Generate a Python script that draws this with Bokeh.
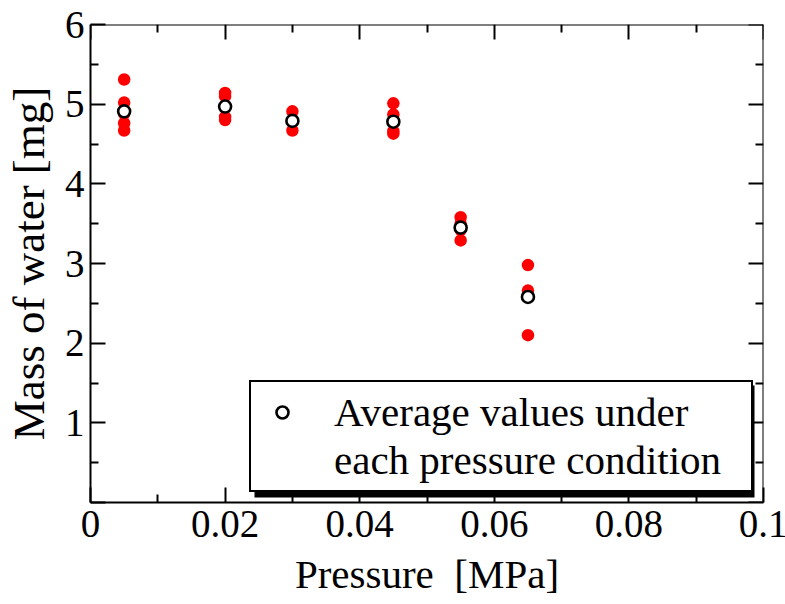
from bokeh.plotting import figure
from bokeh.models import (LinearAxis, FixedTicker, NumeralTickFormatter, Legend,
                          LegendItem, BoxAnnotation, Range1d, CustomLabelingPolicy)
from bokeh.embed import file_html
from bokeh.resources import INLINE

# ---------------- data ----------------
pressures = [0.005, 0.02, 0.03, 0.045, 0.055, 0.065]   # MPa
mass_p005 = [5.31, 5.02, 4.88, 4.76, 4.67]
mass_p020 = [5.14, 5.10, 4.84, 4.80]
mass_p030 = [4.91, 4.78, 4.67]
mass_p045 = [5.01, 4.87, 4.78, 4.66, 4.63]
mass_p055 = [3.58, 3.50, 3.42, 3.29]
mass_p065 = [2.98, 2.66, 2.58, 2.10]
average_mass = [4.91, 4.97, 4.79, 4.78, 3.45, 2.58]

x_ticks = [0, 0.02, 0.04, 0.06, 0.08, 0.1]
x_minor_ticks = [0.01, 0.03, 0.05, 0.07, 0.09]
y_ticks = [0, 1, 2, 3, 4, 5, 6]
y_minor_ticks = [0.5, 1.5, 2.5, 3.5, 4.5, 5.5]

x_label = "Pressure \u00a0[MPa]"
y_label = "Mass of water [mg]"
legend_line1 = "Average values under"
legend_line2 = "each pressure condition"

# ---------------- figure ----------------
FONT = "Liberation Serif"

p = figure(frame_width=673, frame_height=478, output_backend="svg",
           toolbar_location=None,
           x_range=Range1d(x_ticks[0], x_ticks[-1]),
           y_range=Range1d(y_ticks[0], y_ticks[-1]),
           min_border_left=88, min_border_right=24, min_border_top=24,
           min_border_bottom=102, x_axis_label=x_label, y_axis_label=y_label)
p.xgrid.visible = False
p.ygrid.visible = False
p.outline_line_color = None
p.background_fill_color = "white"
p.border_fill_color = "white"

all_mass = [mass_p005, mass_p020, mass_p030, mass_p045, mass_p055, mass_p065]
xs, ys = [], []
for pr, ms in zip(pressures, all_mass):
    xs += [pr] * len(ms)
    ys += ms

p.scatter(xs, ys, size=12.5, fill_color="#ff0000", line_color=None)
avg = p.scatter(pressures, average_mass, size=12, fill_color="white",
                line_color="black", line_width=2.6)
# empty renderer used only to carry the legend's second text line
blank = p.scatter(x=[], y=[], fill_alpha=0, line_alpha=0)

no_labels = CustomLabelingPolicy(code="""
    for (const i of indices) { indices.unset(i) }
    return indices
""")


def style_axis(ax, labels=True):
    ax.axis_line_width = 2
    ax.axis_line_color = "black"
    ax.major_tick_in = 15
    ax.major_tick_out = 0
    ax.minor_tick_in = 8
    ax.minor_tick_out = 0
    ax.major_tick_line_width = 2
    ax.minor_tick_line_width = 2
    ax.major_tick_line_color = "black"
    ax.minor_tick_line_color = "black"
    if labels:
        ax.major_label_text_font = FONT
        ax.major_label_text_font_size = "39px"
        ax.major_label_text_color = "black"
        ax.axis_label_text_font = FONT
        ax.axis_label_text_font_style = "normal"
        ax.axis_label_text_color = "black"
    else:
        ax.major_label_text_font_size = "0px"
        ax.major_label_standoff = 0
        ax.major_label_policy = no_labels
        ax.axis_label = None


xa = p.xaxis[0]
xa.ticker = FixedTicker(ticks=x_ticks, minor_ticks=x_minor_ticks)
xa.formatter = NumeralTickFormatter(format="0.[00]")
style_axis(xa)
xa.major_label_standoff = 8
xa.axis_label_standoff = 11
xa.axis_label_text_font_size = "41px"

ya = p.yaxis[0]
ya.ticker = FixedTicker(ticks=y_ticks, minor_ticks=y_minor_ticks)
ya.major_label_overrides = {0: ""}
style_axis(ya)
ya.major_label_standoff = 6
ya.axis_label_standoff = 8
ya.axis_label_text_font_size = "45px"

# frame-box axes pinned to the plot edges
top_ax = LinearAxis(ticker=FixedTicker(ticks=x_ticks, minor_ticks=x_minor_ticks),
                    fixed_location=y_ticks[-1])
style_axis(top_ax, labels=False)
p.add_layout(top_ax, "above")
right_ax = LinearAxis(ticker=FixedTicker(ticks=y_ticks, minor_ticks=y_minor_ticks),
                      fixed_location=x_ticks[-1])
style_axis(right_ax, labels=False)
p.add_layout(right_ax, "right")

# legend shadow (screen units relative to frame, y upward from frame bottom)
shadow = BoxAnnotation(left=164, right=664, top=117, bottom=5,
                       left_units="screen", right_units="screen",
                       top_units="screen", bottom_units="screen",
                       fill_color="black", fill_alpha=1, line_color=None)
p.add_layout(shadow)

legend = Legend(items=[LegendItem(label=legend_line1, renderers=[avg]),
                       LegendItem(label=legend_line2, renderers=[blank])],
                location=(159, 10), padding=6, margin=0, spacing=0,
                glyph_width=50, glyph_height=30, label_standoff=27,
                label_width=411,
                label_text_font=FONT, label_text_font_size="41px",
                label_text_color="black",
                border_line_color="black", border_line_width=2,
                border_line_alpha=1,
                background_fill_color="white", background_fill_alpha=1)
p.add_layout(legend, "center")

open("out.html", "w").write(file_html(p, INLINE))
